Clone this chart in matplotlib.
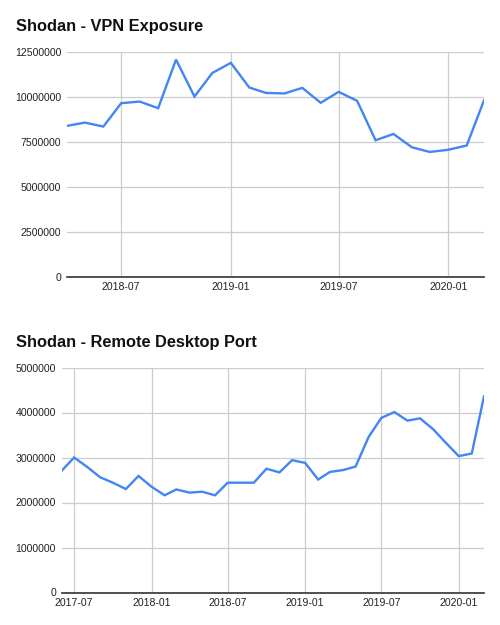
import numpy as np
import pandas as pd
import matplotlib
matplotlib.use('Agg')
import matplotlib.pyplot as plt
import matplotlib.dates as mdates

plt.rcParams['font.family'] = ['Liberation Sans', 'DejaVu Sans']

# VPN exposure, monthly 2018-04 .. 2020-03
VPN_MONTHS = pd.date_range('2018-04-01', '2020-03-01', freq='MS')
VPN_VALUES = [8390000, 8570000, 8350000, 9650000, 9740000, 9370000,
              12070000, 10020000, 11330000, 11890000, 10520000, 10220000,
              10190000, 10500000, 9670000, 10280000, 9780000, 7590000,
              7940000, 7200000, 6940000, 7060000, 7300000, 9810000]
VPN_YTICKS = [0, 2500000, 5000000, 7500000, 10000000, 12500000]
VPN_XTICKS = ['2018-07-01', '2019-01-01', '2019-07-01', '2020-01-01']

# Remote desktop port, monthly 2017-06 .. 2020-03
RDP_MONTHS = pd.date_range('2017-06-01', '2020-03-01', freq='MS')
RDP_VALUES = [2700000, 3000000, 2790000, 2560000, 2440000, 2300000,
              2590000, 2350000, 2160000, 2290000, 2220000, 2240000,
              2160000, 2440000, 2440000, 2440000, 2750000, 2670000,
              2940000, 2880000, 2510000, 2680000, 2720000, 2800000,
              3460000, 3880000, 4010000, 3820000, 3870000, 3630000,
              3330000, 3030000, 3090000, 4360000]
RDP_YTICKS = [0, 1000000, 2000000, 3000000, 4000000, 5000000]
RDP_XTICKS = ['2017-07-01', '2018-01-01', '2018-07-01', '2019-01-01',
              '2019-07-01', '2020-01-01']

LINE = '#4285f4'
GRID = '#cccccc'


def style_panel(ax, months, values, yticks, xticks, title, title_y, fig):
    ax.plot(months, values, color=LINE, linewidth=1.7, solid_joinstyle='miter')
    ax.set_xlim(months[0], months[-1])
    ax.set_ylim(yticks[0], yticks[-1])
    ax.set_yticks(yticks)
    ax.set_yticklabels([str(v) for v in yticks])
    ax.set_xticks(pd.to_datetime(xticks))
    ax.xaxis.set_major_formatter(mdates.DateFormatter('%Y-%m'))
    ax.grid(True, color=GRID, linewidth=0.9)
    ax.set_axisbelow(True)
    for s in ['top', 'right', 'left']:
        ax.spines[s].set_visible(False)
    ax.spines['bottom'].set_color('#333333')
    ax.spines['bottom'].set_linewidth(1.2)
    ax.tick_params(length=0, labelsize=7.6, colors='#222222', pad=4)
    fig.text(0.032, title_y, title, fontsize=11.8, weight='bold',
             color='#111111', va='center', ha='left')


fig = plt.figure(figsize=(5, 6.25), dpi=100)
ax1 = fig.add_axes([0.134, 0.557, 0.834, 0.360])
ax2 = fig.add_axes([0.123, 0.052, 0.845, 0.360])

style_panel(ax1, VPN_MONTHS, VPN_VALUES, VPN_YTICKS, VPN_XTICKS,
            'Shodan - VPN Exposure', 1 - 26 / 625, fig)
style_panel(ax2, RDP_MONTHS, RDP_VALUES, RDP_YTICKS, RDP_XTICKS,
            'Shodan - Remote Desktop Port', 1 - 342 / 625, fig)

fig.savefig('out.png', dpi=100, facecolor='white')
